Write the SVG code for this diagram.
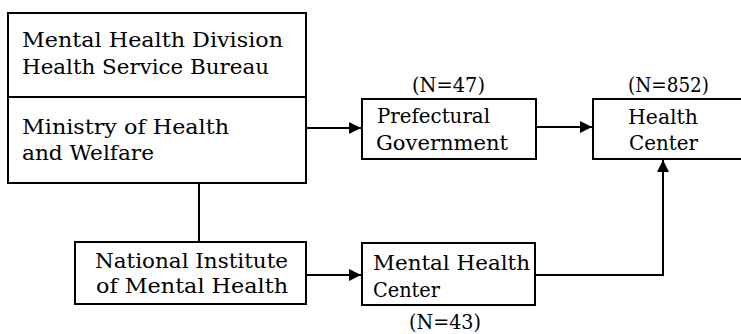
<svg xmlns="http://www.w3.org/2000/svg" width="741" height="334" viewBox="0 0 741 334">
  <style>
    .box { fill: #fff; stroke: #000; stroke-width: 2; }
    .lbl { font-family: "DejaVu Serif", "Liberation Serif", serif; font-size: 20.5px; fill: #000; }
    .wire { fill: none; stroke: #000; stroke-width: 2; }
  </style>
  <defs>
    <marker id="arrow" viewBox="0 0 12 12" refX="12" refY="6" markerWidth="12" markerHeight="12" markerUnits="userSpaceOnUse" orient="auto">
      <path d="M0,0 L12,6 L0,12 Z" fill="#000"/>
    </marker>
  </defs>
  <rect width="741" height="334" fill="#fff"/>

  <!-- connectors -->
  <g id="connectors">
    <path class="wire" d="M306,128 H361" marker-end="url(#arrow)"/>
    <path class="wire" d="M536,127 H592" marker-end="url(#arrow)"/>
    <path class="wire" d="M199,183 V242"/>
    <path class="wire" d="M306,275 H361" marker-end="url(#arrow)"/>
    <path class="wire" d="M535,275 H663 V160" marker-end="url(#arrow)"/>
  </g>

  <!-- ministry with its division -->
  <g id="ministry">
    <rect class="box" x="8" y="13" width="298" height="170"/>
    <line x1="8" y1="97" x2="306" y2="97" stroke="#000" stroke-width="2"/>
    <text class="lbl" x="22" y="47" textLength="261" lengthAdjust="spacingAndGlyphs">Mental Health Division</text>
    <text class="lbl" x="22" y="74" textLength="247" lengthAdjust="spacingAndGlyphs">Health Service Bureau</text>
    <text class="lbl" x="22" y="134" textLength="207" lengthAdjust="spacingAndGlyphs">Ministry of Health</text>
    <text class="lbl" x="22" y="160" textLength="132" lengthAdjust="spacingAndGlyphs">and Welfare</text>
  </g>

  <g id="prefectural">
    <rect class="box" x="362" y="99" width="174" height="60"/>
    <text class="lbl" x="412" y="92" textLength="73" lengthAdjust="spacingAndGlyphs">(N=47)</text>
    <text class="lbl" x="377" y="123" textLength="113" lengthAdjust="spacingAndGlyphs">Prefectural</text>
    <text class="lbl" x="376" y="150" textLength="132" lengthAdjust="spacingAndGlyphs">Government</text>
  </g>

  <g id="health-center">
    <path class="box" d="M742,99 H593 V159 H742"/>
    <text class="lbl" x="628" y="92" textLength="81" lengthAdjust="spacingAndGlyphs">(N=852)</text>
    <text class="lbl" x="628" y="124" textLength="70" lengthAdjust="spacingAndGlyphs">Health</text>
    <text class="lbl" x="629" y="150" textLength="69" lengthAdjust="spacingAndGlyphs">Center</text>
  </g>

  <g id="nimh">
    <rect class="box" x="75" y="242" width="231" height="62"/>
    <text class="lbl" x="95" y="268" textLength="193" lengthAdjust="spacingAndGlyphs">National Institute</text>
    <text class="lbl" x="96" y="293" textLength="192" lengthAdjust="spacingAndGlyphs">of Mental Health</text>
  </g>

  <g id="mental-health-center">
    <rect class="box" x="362" y="243" width="173" height="62"/>
    <text class="lbl" x="373" y="270" textLength="157" lengthAdjust="spacingAndGlyphs">Mental Health</text>
    <text class="lbl" x="373" y="297" textLength="67" lengthAdjust="spacingAndGlyphs">Center</text>
    <text class="lbl" x="409" y="329" textLength="72" lengthAdjust="spacingAndGlyphs">(N=43)</text>
  </g>
</svg>
